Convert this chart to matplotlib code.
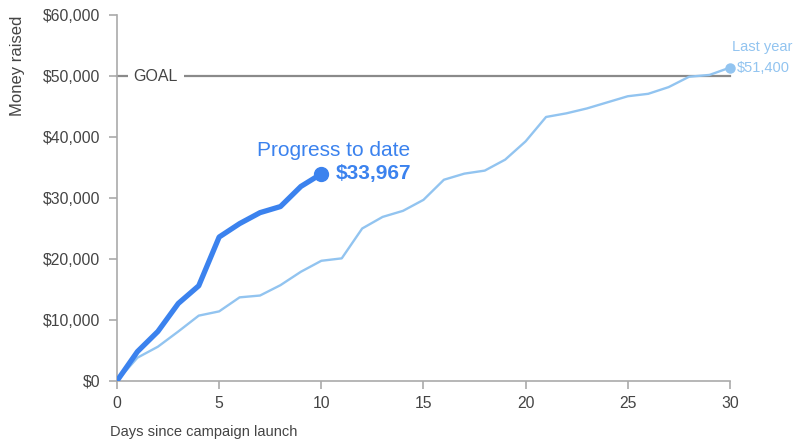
import matplotlib.pyplot as plt
from matplotlib.ticker import FuncFormatter

plt.rcParams["font.family"] = ["Liberation Sans", "DejaVu Sans"]

# cumulative money raised per day
days_this_year = list(range(0, 11))
raised_this_year = [0, 4800, 8100, 12700, 15600, 23600, 25800, 27600, 28600, 31900, 33967]

days_last_year = list(range(0, 31))
raised_last_year = [0, 3800, 5600, 8100, 10700, 11400, 13700, 14000, 15700, 17900,
                    19700, 20100, 25000, 26900, 27900, 29700, 33000, 34000, 34500, 36300,
                    39300, 43300, 43900, 44700, 45700, 46700, 47100, 48200, 49900, 50200,
                    51400]

goal = 50000
y_ticks = [0, 10000, 20000, 30000, 40000, 50000, 60000]
x_ticks = [0, 5, 10, 15, 20, 25, 30]

blue = "#3b82ee"
light_blue = "#92c4f0"
grey = "#444444"
axis_grey = "#aaaaaa"

fig = plt.figure(figsize=(7.96, 4.47), dpi=100)
ax = fig.add_axes([0.147, 0.148, 0.77, 0.818])

# goal line with a label knocked out of it
ax.plot([0, 30], [goal, goal], color="#8a8a8a", lw=1.6, zorder=1, clip_on=False)
ax.text(1.9, goal, "GOAL", ha="center", va="center", fontsize=11.5, color=grey,
        bbox=dict(facecolor="white", edgecolor="none", pad=4), zorder=2)

ax.plot(days_last_year, raised_last_year, color=light_blue, lw=1.7, zorder=3)
ax.plot(days_last_year[-1], raised_last_year[-1], "o", color=light_blue, ms=6.5,
        zorder=4, clip_on=False)
ax.text(days_last_year[-1] + 0.1, raised_last_year[-1] + 3300, "Last year",
        color=light_blue, fontsize=10.5, ha="left", va="center")
ax.text(days_last_year[-1] + 0.35, raised_last_year[-1], "${:,}".format(raised_last_year[-1]),
        color=light_blue, fontsize=10.5, ha="left", va="center")

ax.plot(days_this_year, raised_this_year, color=blue, lw=3.8, zorder=5,
        solid_capstyle="round", solid_joinstyle="round")
ax.plot(days_this_year[-1], raised_this_year[-1], "o", color=blue, ms=10, zorder=6)
ax.text(days_this_year[-1] + 0.7, raised_this_year[-1], "${:,}".format(raised_this_year[-1]),
        color=blue, fontsize=15, fontweight="bold", ha="left", va="center")
ax.text(days_this_year[-1] + 0.6, raised_this_year[-1] + 3900, "Progress to date",
        color=blue, fontsize=15, ha="center", va="center")

ax.set_xlim(0, 30)
ax.set_ylim(0, 60000)
ax.set_xticks(x_ticks)
ax.set_yticks(y_ticks)
ax.yaxis.set_major_formatter(FuncFormatter(lambda v, p: "${:,.0f}".format(v)))

for side in ["top", "right"]:
    ax.spines[side].set_visible(False)
for side in ["left", "bottom"]:
    ax.spines[side].set_color(axis_grey)
    ax.spines[side].set_linewidth(1.2)
ax.tick_params(colors=axis_grey, labelcolor=grey, labelsize=11.3, length=6, width=1.2)
ax.tick_params(axis="x", pad=5)
ax.tick_params(axis="y", pad=6)

fig.text(0.022, 0.966, "Money raised", rotation=90, ha="center", va="top",
         fontsize=12, color=grey)
fig.text(0.138, 0.033, "Days since campaign launch", ha="left", va="center",
         fontsize=10.5, color=grey)

fig.savefig("out.png", dpi=100)
